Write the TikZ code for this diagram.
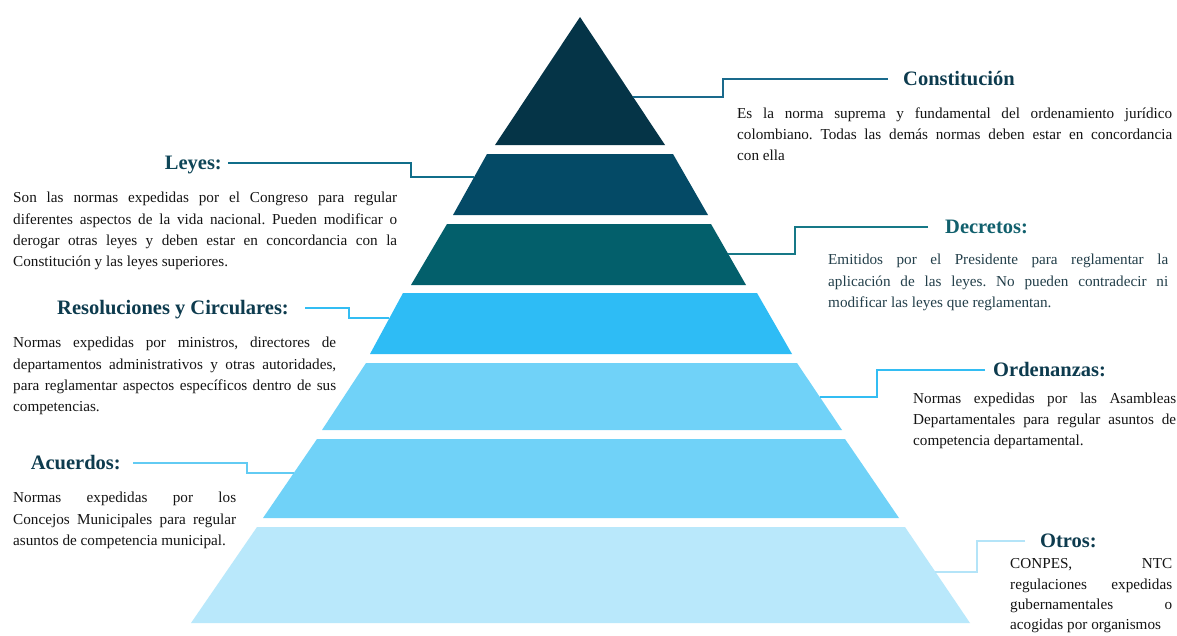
\documentclass[tikz,border=0pt]{standalone}
\usepackage{fontspec}
\setmainfont{Liberation Serif}
\frenchspacing
\usetikzlibrary{calc}
\definecolor{tierA}{HTML}{053447}
\definecolor{tierB}{HTML}{044A66}
\definecolor{tierC}{HTML}{035F6B}
\definecolor{tierD}{HTML}{2EBCF5}
\definecolor{tierE}{HTML}{70D2F8}
\definecolor{tierF}{HTML}{70D2F8}
\definecolor{tierG}{HTML}{B9E8FB}
\definecolor{connA}{HTML}{1A6A8C}
\definecolor{connB}{HTML}{106E8A}
\definecolor{connC}{HTML}{167887}
\definecolor{connD}{HTML}{33BDF3}
\definecolor{connE}{HTML}{33BDF3}
\definecolor{connF}{HTML}{62CBF3}
\definecolor{connG}{HTML}{B4E4F8}
\definecolor{ttl}{HTML}{0D3B4E}
\definecolor{ttlB}{HTML}{0F4658}
\definecolor{ttlC}{HTML}{11606D}
\definecolor{bodyC}{HTML}{233F4A}
\definecolor{bodyK}{HTML}{141414}
\newcommand\bodystrut{\rule{0pt}{11pt}}
\tikzset{
  titletext/.style={font=\fontsize{20.5}{24}\selectfont\bfseries, inner sep=0pt, text=ttl},
  bodytext/.style={font={\fontsize{15.2}{21.3}\selectfont\parindent=0pt}, inner sep=0pt,
    align=justify, anchor=north west, text=bodyK},
  conn/.style={line width=2.4pt},
}
\begin{document}
\begin{tikzpicture}[x=1pt,y=-1pt]
\useasboundingbox (0,0) rectangle (1177,635);
\fill[white] (0,0) rectangle (1177,635);

% pyramid tiers
\coordinate (t1a) at (580,17); \coordinate (t1r) at (665,145); \coordinate (t1l) at (495,145);
\fill[tierA] (t1a) -- (t1r) -- (t1l) -- cycle;
\coordinate (t2tl) at (487,154); \coordinate (t2tr) at (673,154);
\coordinate (t2br) at (708,215); \coordinate (t2bl) at (453,215);
\fill[tierB] (t2tl) -- (t2tr) -- (t2br) -- (t2bl) -- cycle;
\coordinate (t3tl) at (447,224); \coordinate (t3tr) at (711,224);
\coordinate (t3br) at (746,285); \coordinate (t3bl) at (411,285);
\fill[tierC] (t3tl) -- (t3tr) -- (t3br) -- (t3bl) -- cycle;
\coordinate (t4tl) at (403,293); \coordinate (t4tr) at (757,293);
\coordinate (t4br) at (792,354); \coordinate (t4bl) at (370,354);
\fill[tierD] (t4tl) -- (t4tr) -- (t4br) -- (t4bl) -- cycle;
\coordinate (t5tl) at (366,363); \coordinate (t5tr) at (797,363);
\coordinate (t5br) at (842,430); \coordinate (t5bl) at (322,430);
\fill[tierE] (t5tl) -- (t5tr) -- (t5br) -- (t5bl) -- cycle;
\coordinate (t6tl) at (317,439); \coordinate (t6tr) at (845,439);
\coordinate (t6br) at (899,518); \coordinate (t6bl) at (263,518);
\fill[tierF] (t6tl) -- (t6tr) -- (t6br) -- (t6bl) -- cycle;
\coordinate (t7tl) at (257,527); \coordinate (t7tr) at (905,527);
\coordinate (t7br) at (970,623); \coordinate (t7bl) at (191,623);
\fill[tierG] (t7tl) -- (t7tr) -- (t7br) -- (t7bl) -- cycle;

% connector end points on the pyramid edges
\coordinate (e1) at ($(t1a)!0.625!(t1r)$);
\coordinate (e2) at ($(t2tl)!0.377!(t2bl)$);
\coordinate (e3) at ($(t3tr)!0.492!(t3br)$);
\coordinate (e4) at ($(t4tl)!0.41!(t4bl)$);
\coordinate (e5) at ($(t5tr)!0.507!(t5br)$);
\coordinate (e6) at ($(t6tl)!0.43!(t6bl)$);
\coordinate (e7) at ($(t7tr)!0.469!(t7br)$);

% titles (text sits 4.5px below its connector line's mid anchor)
\node[titletext, anchor=mid west] (const) at (903,83.5) {Constitución};
\node[titletext, text=ttlB, anchor=mid east] (leyes) at (222,167.5) {Leyes:};
\node[titletext, text=ttlC, anchor=mid west] (decr) at (945,231.5) {Decretos:};
\node[titletext, anchor=mid east] (resol) at (289,312.5) {Resoluciones y Circulares:};
\node[titletext, anchor=mid west] (orden) at (993,374.5) {Ordenanzas:};
\node[titletext, anchor=mid east] (acuer) at (121,467.5) {Acuerdos:};
\node[titletext, anchor=mid west] (otros) at (1040,545.5) {Otros:};

% body texts
\node[bodytext, text width=435pt] (constb) at (737,107) {\bodystrut Es la norma suprema y fundamental del ordenamiento jurídico\linebreak colombiano. Todas las demás normas deben estar en concordancia\linebreak con ella};
\node[bodytext, text width=384pt] (leyesb) at (13,191.5) {\bodystrut Son las normas expedidas por el Congreso para regular\linebreak diferentes aspectos de la vida nacional. Pueden modificar o\linebreak derogar otras leyes y deben estar en concordancia con la\linebreak Constitución y las leyes superiores.};
\node[bodytext, text=bodyC, text width=340pt] (decrb) at (828,253.5) {\bodystrut Emitidos por el Presidente para reglamentar la\linebreak aplicación de las leyes. No pueden contradecir ni\linebreak modificar las leyes que reglamentan.};
\node[bodytext, text width=323pt] (resolb) at (13,336.5) {\bodystrut Normas expedidas por ministros, directores de\linebreak departamentos administrativos y otras autoridades,\linebreak para reglamentar aspectos específicos dentro de sus\linebreak competencias.};
\node[bodytext, text width=263pt] (ordenb) at (913,392) {\bodystrut Normas expedidas por las Asambleas\linebreak Departamentales para regular asuntos de\linebreak competencia departamental.};
\node[bodytext, text width=223pt] (acuerb) at (13,491.5) {\bodystrut Normas expedidas por los\linebreak Concejos Municipales para regular\linebreak asuntos de competencia municipal.};
\node[bodytext, font={\fontsize{15.2}{20.4}\selectfont\parindent=0pt}, text width=162pt] (otrosb) at (1010,557.5) {\parfillskip=0pt\bodystrut CONPES, NTC\linebreak regulaciones expedidas\linebreak gubernamentales o\linebreak acogidas por organismos};

% connectors
\draw[conn, connA] ([xshift=-15pt,yshift=4.5pt]const.mid west) -| (723,88) |- (e1);
\draw[conn, connB] ([xshift=6pt,yshift=4.5pt]leyes.mid east) -| (411,170) |- (e2);
\draw[conn, connC] ([xshift=-17pt,yshift=4.5pt]decr.mid west) -| (795,240) |- (e3);
\draw[conn, connD] ([xshift=16pt,yshift=4.5pt]resol.mid east) -| (349,313) |- (e4);
\draw[conn, connE] ([xshift=-8pt,yshift=4.5pt]orden.mid west) -| (877,383) |- (e5);
\draw[conn, connF] ([xshift=12pt,yshift=4.5pt]acuer.mid east) -| (247,468) |- (e6);
\draw[conn, connG] ([xshift=-15pt,yshift=4.5pt]otros.mid west) -| (977,556) |- (e7);
\end{tikzpicture}
\end{document}
